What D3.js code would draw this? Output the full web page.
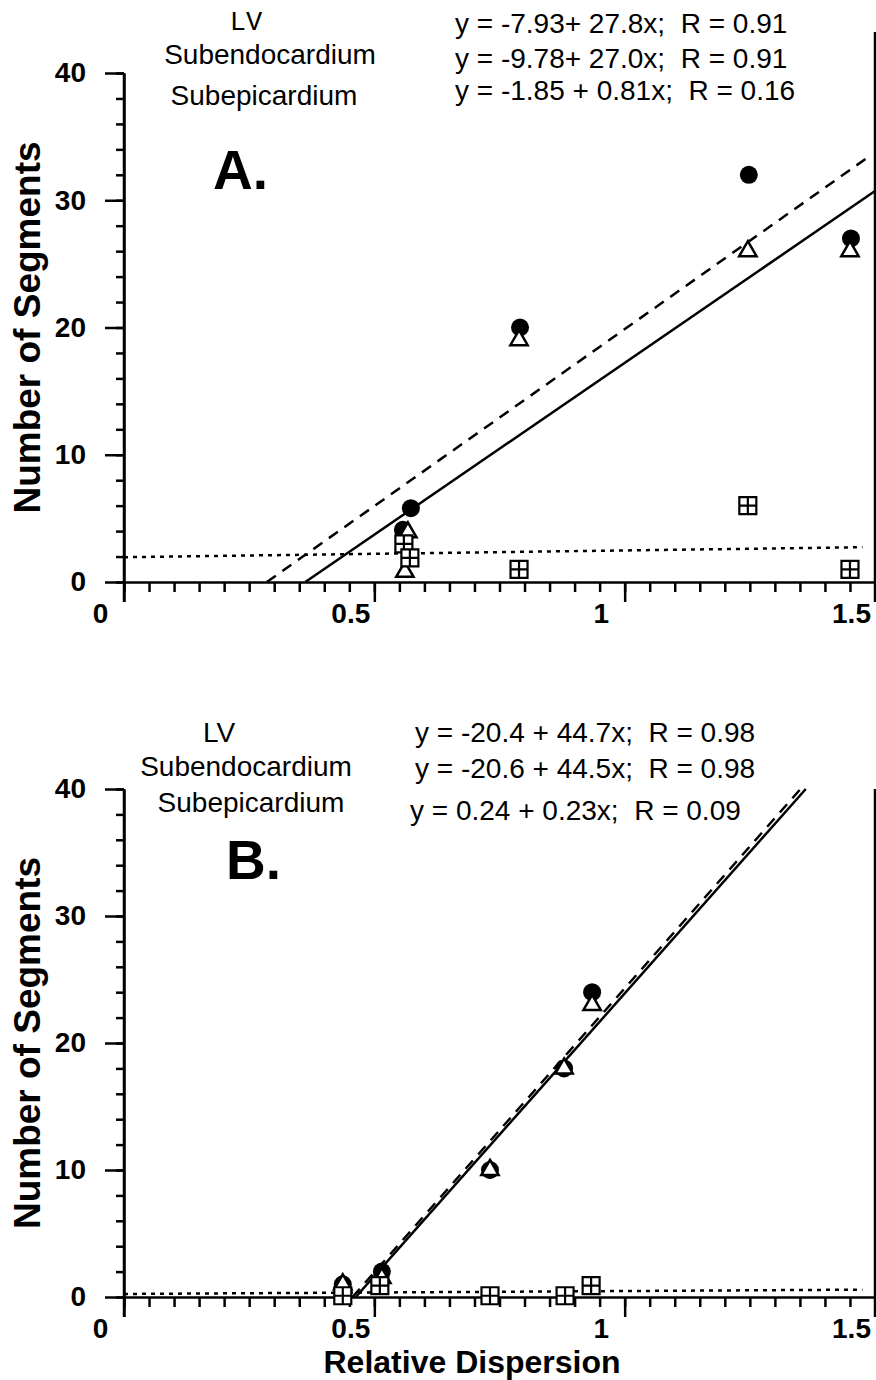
<!DOCTYPE html>
<html>
<head>
<meta charset="utf-8">
<script src="https://cdn.jsdelivr.net/npm/d3@7"></script>
<style>
  body { margin: 0; background: #fff; }
  text { font-family: "Liberation Sans", Arial, sans-serif; fill: #000; }
</style>
</head>
<body>
<svg id="chart" width="876" height="1380"></svg>
<script>
// Axis ticks
const xMajorTicks = [0, 0.5, 1, 1.5];
const xMinorTicks = d3.range(0, 31).map((i) => i * 0.05);
const yMajorTicks = [0, 10, 20, 30, 40];
const yMinorTicks = d3.range(0, 41, 2);

const seriesNames = ["LV", "Subendocardium", "Subepicardium"];

// Panel A data
const aLvX = [0.557, 0.573, 0.791, 1.248, 1.452];
const aLvY = [4.1, 5.8, 20, 32, 27];
const aEndoX = [0.567, 0.561, 0.789, 1.246, 1.45];
const aEndoY = [3.9, 0.8, 19, 26, 26];
const aEpiX = [0.559, 0.571, 0.789, 1.246, 1.45];
const aEpiY = [3, 1.9, 1, 6, 1];
const aEquations = [
  "y = -7.93+ 27.8x;  R = 0.91",
  "y = -9.78+ 27.0x;  R = 0.91",
  "y = -1.85 + 0.81x;  R = 0.16",
];
// fitted lines as drawn: LV, Subendocardium, Subepicardium
const aFitIntercept = [-7.93, -9.78, 1.95];
const aFitSlope = [27.8, 27.0, 0.53];
const aFitXMax = [1.49, 1.5, 1.475];

// Panel B data
const bLvX = [0.437, 0.515, 0.731, 0.879, 0.935];
const bLvY = [1, 2, 10, 18, 24];
const bEndoX = [0.437, 0.515, 0.731, 0.879, 0.935];
const bEndoY = [1, 1.5, 10, 18, 23];
const bEpiX = [0.437, 0.511, 0.731, 0.881, 0.933];
const bEpiY = [0.1, 0.9, 0.1, 0.1, 0.9];
const bEquations = [
  "y = -20.4 + 44.7x;  R = 0.98",
  "y = -20.6 + 44.5x;  R = 0.98",
  "y = 0.24 + 0.23x;  R = 0.09",
];
const bFitIntercept = [-20.4, -20.6, 0.24];
const bFitSlope = [44.7, 44.5, 0.23];
const bFitXMax = [1.5, 1.5, 1.475];

const panels = [
  {
    label: "A.",
    series: [
      { x: aLvX, y: aLvY },
      { x: aEndoX, y: aEndoY },
      { x: aEpiX, y: aEpiY },
    ],
    equations: aEquations,
    fits: aFitIntercept.map((b, i) => ({ b: b, m: aFitSlope[i], xMax: aFitXMax[i] })),
    top: 73, bottom: 582, frameTop: 32,
    labelPos: [213, 189],
    namePos: [[246, 30], [270, 64], [264, 105]],
    lvFont: "'Liberation Mono', 'Courier New', monospace",
    eqPos: [[455, 33], [455, 68], [455, 100]],
    xTitle: false,
  },
  {
    label: "B.",
    series: [
      { x: bLvX, y: bLvY },
      { x: bEndoX, y: bEndoY },
      { x: bEpiX, y: bEpiY },
    ],
    equations: bEquations,
    fits: bFitIntercept.map((b, i) => ({ b: b, m: bFitSlope[i], xMax: bFitXMax[i] })),
    top: 789, bottom: 1297, frameTop: 789,
    labelPos: [226, 879],
    namePos: [[219, 742], [246, 776], [251, 812]],
    lvFont: null,
    eqPos: [[415, 742], [415, 778], [410, 820]],
    xTitle: true,
  },
];

const lineDash = ["11,8", null, "4,5"];
const svg = d3.select("#chart");
svg.append("rect").attr("width", 876).attr("height", 1380).attr("fill", "#fff");

const x = d3.scaleLinear().domain([0, 1.5]).range([124, 875]);

panels.forEach((p) => {
  const y = d3.scaleLinear().domain([0, 40]).range([p.bottom, p.top]);
  const g = svg.append("g");

  // right frame line
  g.append("line")
    .attr("x1", x(1.5)).attr("x2", x(1.5))
    .attr("y1", p.frameTop).attr("y2", p.bottom + 20)
    .attr("stroke", "#000").attr("stroke-width", 2.5);

  // x axis: minor then major ticks
  g.append("g")
    .attr("transform", `translate(0,${p.bottom})`)
    .call(d3.axisBottom(x).tickValues(xMinorTicks).tickSize(10).tickSizeOuter(0).tickFormat(""))
    .call((a) => a.selectAll("line").attr("stroke-width", 2.5))
    .call((a) => a.select(".domain").remove());
  const xAxis = g.append("g")
    .attr("transform", `translate(0,${p.bottom})`)
    .call(d3.axisBottom(x).tickValues(xMajorTicks).tickSize(20).tickSizeOuter(0).tickFormat((d) => d));
  xAxis.select(".domain").attr("stroke-width", 2.5);
  xAxis.selectAll("line").attr("stroke-width", 2.5);
  xAxis.selectAll("text")
    .attr("dx", -24).attr("y", 41).attr("dy", 0)
    .style("font-family", "'Liberation Sans', Arial, sans-serif")
    .style("font-size", "28px").style("font-weight", "bold");

  // y axis
  g.append("g")
    .attr("transform", `translate(124,0)`)
    .call(d3.axisLeft(y).tickValues(yMinorTicks).tickSize(8).tickSizeOuter(0).tickFormat(""))
    .call((a) => a.selectAll("line").attr("stroke-width", 2.5))
    .call((a) => a.select(".domain").remove());
  const yAxis = g.append("g")
    .attr("transform", `translate(124,0)`)
    .call(d3.axisLeft(y).tickValues(yMajorTicks).tickSize(19).tickSizeOuter(0).tickFormat((d) => d));
  yAxis.select(".domain").attr("stroke-width", 2.5);
  yAxis.selectAll("line").attr("stroke-width", 2.5);
  yAxis.selectAll("text")
    .attr("x", -38)
    .style("font-family", "'Liberation Sans', Arial, sans-serif")
    .style("font-size", "28px").style("font-weight", "bold");
  // extend y axis line down to the major x tick at 0
  g.append("line")
    .attr("x1", x(0)).attr("x2", x(0))
    .attr("y1", p.top).attr("y2", p.bottom + 20)
    .attr("stroke", "#000").attr("stroke-width", 2.5);

  // y title
  g.append("text")
    .attr("transform", `translate(40,${(p.top + p.bottom) / 2}) rotate(-90)`)
    .attr("text-anchor", "middle")
    .style("font-size", "37px").style("font-weight", "bold")
    .text("Number of Segments");

  if (p.xTitle) {
    g.append("text")
      .attr("x", 472).attr("y", 1373)
      .attr("text-anchor", "middle")
      .style("font-size", "32px").style("font-weight", "bold")
      .text("Relative Dispersion");
  }

  // regression lines
  p.fits.forEach((f, i) => {
    const x0 = Math.max(0, -f.b / f.m);
    const x1 = Math.min(f.xMax, (40 - f.b) / f.m);
    g.append("line")
      .attr("x1", x(x0)).attr("y1", y(f.b + f.m * x0))
      .attr("x2", x(x1)).attr("y2", y(f.b + f.m * x1))
      .attr("stroke", "#000").attr("stroke-width", 2.5)
      .attr("stroke-dasharray", lineDash[i]);
  });

  // markers: LV circles, Subendocardium triangles, Subepicardium crossed squares
  const lv = p.series[0];
  g.selectAll(".lv")
    .data(lv.x.map((d, i) => [d, lv.y[i]]))
    .join("circle")
    .attr("cx", (d) => x(d[0])).attr("cy", (d) => y(d[1]))
    .attr("r", 9).attr("fill", "#000");

  const endo = p.series[1];
  g.selectAll(".endo")
    .data(endo.x.map((d, i) => [d, endo.y[i]]))
    .join("path")
    .attr("d", d3.symbol(d3.symbolTriangle).size(130))
    .attr("transform", (d) => `translate(${x(d[0])},${y(d[1])})`)
    .attr("fill", "#fff").attr("stroke", "#000").attr("stroke-width", 2.5);

  const epi = p.series[2];
  const h = 8.5;
  g.selectAll(".epi")
    .data(epi.x.map((d, i) => [d, epi.y[i]]))
    .join("path")
    .attr("d", `M${-h},${-h}H${h}V${h}H${-h}Z M0,${-h}V${h} M${-h},0H${h}`)
    .attr("transform", (d) => `translate(${x(d[0])},${y(d[1])})`)
    .attr("fill", "#fff").attr("stroke", "#000").attr("stroke-width", 2.2);

  // panel letter
  g.append("text")
    .attr("x", p.labelPos[0]).attr("y", p.labelPos[1])
    .style("font-size", "55px").style("font-weight", "bold")
    .text(p.label);

  // series names
  seriesNames.forEach((name, i) => {
    const t = g.append("text")
      .attr("x", p.namePos[i][0]).attr("y", p.namePos[i][1])
      .attr("text-anchor", "middle")
      .style("font-size", "28px")
      .text(name);
    if (i === 0 && p.lvFont) t.style("font-family", p.lvFont).style("font-size", "27px");
  });

  // equations
  p.equations.forEach((eq, i) => {
    g.append("text")
      .attr("x", p.eqPos[i][0]).attr("y", p.eqPos[i][1])
      .attr("xml:space", "preserve")
      .style("white-space", "pre")
      .style("font-size", "28px")
      .text(eq);
  });
});
</script>
</body>
</html>
